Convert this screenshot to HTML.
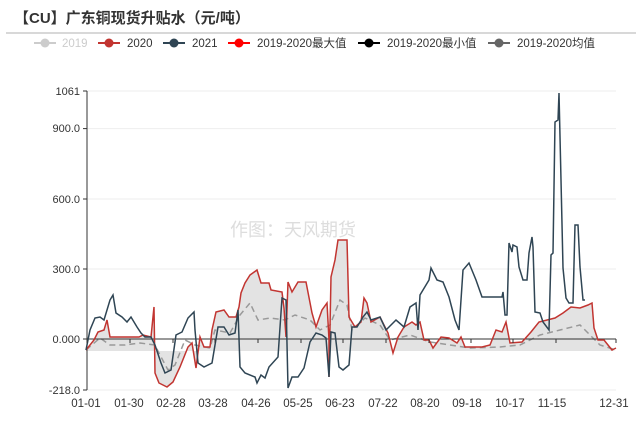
<!DOCTYPE html><html><head><meta charset="utf-8"><style>body{margin:0;background:#fff}svg{display:block;font-family:"Liberation Sans","Noto Sans CJK SC",sans-serif}</style></head><body>
<svg width="640" height="423" viewBox="0 0 640 423">
<text x="14" y="23" font-size="15" font-weight="bold" fill="#333">【CU】广东铜现货升贴水（元/吨）</text>
<line x1="6" y1="33" x2="636" y2="33" stroke="#ccc" stroke-width="1.5"/>
<g font-size="11.5" fill="#333">
<line x1="34" y1="43" x2="56" y2="43" stroke="#ccc" stroke-width="2"/><circle cx="45" cy="43" r="4.5" fill="#ccc"/><text x="62" y="47" fill="#ccc">2019</text>
<line x1="98" y1="43" x2="120" y2="43" stroke="#c23531" stroke-width="2"/><circle cx="109" cy="43" r="4.5" fill="#c23531"/><text x="127" y="47">2020</text>
<line x1="163" y1="43" x2="185" y2="43" stroke="#2f4554" stroke-width="2"/><circle cx="174" cy="43" r="4.5" fill="#2f4554"/><text x="192" y="47">2021</text>
<line x1="228" y1="43" x2="250" y2="43" stroke="#f00" stroke-width="2"/><circle cx="239" cy="43" r="4.5" fill="#f00"/><text x="257" y="47">2019-2020最大值</text>
<line x1="358" y1="43" x2="380" y2="43" stroke="#000" stroke-width="2"/><circle cx="369" cy="43" r="4.5" fill="#000"/><text x="387" y="47">2019-2020最小值</text>
<line x1="488" y1="43" x2="510" y2="43" stroke="#666" stroke-width="2"/><circle cx="499" cy="43" r="4.5" fill="#666"/><text x="517" y="47">2019-2020均值</text>
</g>
<g stroke="#eee" stroke-width="1"><line x1="87" y1="91" x2="616" y2="91"/><line x1="87" y1="128.6" x2="616" y2="128.6"/><line x1="87" y1="199" x2="616" y2="199"/><line x1="87" y1="269" x2="616" y2="269"/><line x1="87" y1="390" x2="616" y2="390"/></g>
<text x="230" y="236" font-size="18" fill="#ddd">作图：天风期货</text>
<polygon fill="#e3e3e3" points="86,350 94,340 98,332 104,330 107,320 110,337 116,337 139,337 143,335 151,337 154,307 155,373 159,383 167,387 173,382 180,367 188,347 192,343 196,368 200,337 204,347 210,347 212,330 216,312 224,310 229,317 236,317 239,307 241,293 245,283 250,275 257,270 261,283 269,283 271,290 282,292 284,308 286,337 288,282 292,292 298,282 306,282 312,313 316,327 322,310 327,303 329,340 331,277 335,260 338,240 347,240 349,317 355,327 361,322 364,298 367,303 371,322 380,317 388,333 393,353 398,337 404,327 412,322 416,325 420,322 424,340 429,340 433,348 441,337 449,338 457,343 461,337 465,347 482,347 490,345 496,330 502,332 506,322 510,343 522,342 531,332 539,322 555,318 563,313 571,307 580,308 588,305 592,303 594,328 598,340 604,340 612,350 616,351 616,351 86,351"/>
<polyline fill="none" stroke="#999" stroke-width="1.5" stroke-dasharray="6,4" points="86,350 100,338 110,345 125,345 140,343 155,345 160,355 168,370 175,365 185,340 195,345 210,348 215,330 230,333 240,315 250,303 258,320 270,318 285,320 295,315 310,320 320,330 330,325 340,300 347,305 352,330 365,318 380,325 390,340 410,335 430,342 450,345 470,348 500,347 520,345 540,335 560,330 580,325 590,335 600,345 616,350"/>
<line x1="87" y1="339" x2="616" y2="339" stroke="#333" stroke-width="1"/>
<line x1="87" y1="91" x2="87" y2="390" stroke="#333" stroke-width="1"/>
<g stroke="#333"><line x1="83" y1="91" x2="87" y2="91"/><line x1="83" y1="128.6" x2="87" y2="128.6"/><line x1="83" y1="199" x2="87" y2="199"/><line x1="83" y1="269" x2="87" y2="269"/><line x1="83" y1="339" x2="87" y2="339"/><line x1="83" y1="390" x2="87" y2="390"/></g>
<g font-size="11" fill="#333" text-anchor="end"><text x="80" y="95">1061</text><text x="80" y="132">900.0</text><text x="80" y="203">600.0</text><text x="80" y="273">300.0</text><text x="80" y="343">0.000</text><text x="80" y="394">-218.0</text></g>
<polyline fill="none" stroke="#c23531" stroke-width="1.5" points="86,350 94,340 98,332 104,330 107,320 110,337 116,337 139,337 143,335 151,337 154,307 155,373 159,383 167,387 173,382 180,367 188,347 192,343 196,368 200,337 204,347 210,347 212,330 216,312 224,310 229,317 236,317 239,307 241,293 245,283 250,275 257,270 261,283 269,283 271,290 282,292 284,308 286,337 288,282 292,292 298,282 306,282 312,313 316,327 322,310 327,303 329,340 329,377 331,277 335,260 338,240 347,240 349,317 355,327 361,322 364,298 367,303 371,322 380,317 388,333 393,353 398,337 404,327 412,322 416,325 420,322 424,340 429,340 433,348 441,337 449,338 457,343 461,337 465,347 482,347 490,345 496,330 502,332 506,322 510,343 522,342 531,332 539,322 555,318 563,313 571,307 580,308 588,305 592,303 594,328 598,340 604,340 612,350 616,348"/>
<polyline fill="none" stroke="#2f4554" stroke-width="1.5" points="86,350 90,330 95,318 100,317 104,320 110,300 113,295 116,313 122,317 127,322 131,317 137,327 141,333 145,337 151,337 155,345 161,363 165,373 171,370 176,335 182,332 188,318 194,312 195,330 198,363 204,367 212,363 218,327 224,327 229,335 235,333 238,310 240,367 245,373 255,377 257,383 261,375 265,378 269,367 278,357 282,298 286,300 288,388 292,377 298,377 304,368 310,342 316,333 322,335 326,338 329,377 331,332 335,333 339,367 343,370 349,365 352,327 357,327 363,317 367,312 371,320 380,317 386,330 396,320 404,327 410,307 416,303 418,330 420,295 429,280 431,268 437,280 443,282 449,297 455,320 459,330 463,270 469,263 476,280 482,297 502,297 503,292 505,315 507,315 509,243 512,252 513,245 517,247 519,267 523,280 527,280 529,253 532,237 533,247 535,312 540,313 543,322 549,330 551,255 553,253 555,122 558,120 559,93 561,180 563,268 566,298 569,303 573,303 575,225 578,225 580,267 583,300 585,300"/>
<g stroke="#333"><line x1="87" y1="339" x2="87" y2="343"/><line x1="130" y1="339" x2="130" y2="343"/><line x1="173" y1="339" x2="173" y2="343"/><line x1="215" y1="339" x2="215" y2="343"/><line x1="258" y1="339" x2="258" y2="343"/><line x1="301" y1="339" x2="301" y2="343"/><line x1="343" y1="339" x2="343" y2="343"/><line x1="386" y1="339" x2="386" y2="343"/><line x1="429" y1="339" x2="429" y2="343"/><line x1="471" y1="339" x2="471" y2="343"/><line x1="513" y1="339" x2="513" y2="343"/><line x1="556" y1="339" x2="556" y2="343"/><line x1="616" y1="339" x2="616" y2="343"/></g>
<g font-size="11.5" fill="#333" text-anchor="middle"><text x="86" y="407">01-01</text><text x="129" y="407">01-30</text><text x="171" y="407">02-28</text><text x="213" y="407">03-28</text><text x="256" y="407">04-26</text><text x="298" y="407">05-25</text><text x="340" y="407">06-23</text><text x="383" y="407">07-22</text><text x="425" y="407">08-20</text><text x="467" y="407">09-18</text><text x="510" y="407">10-17</text><text x="552" y="407">11-15</text><text x="614" y="407">12-31</text></g>
</svg></body></html>
